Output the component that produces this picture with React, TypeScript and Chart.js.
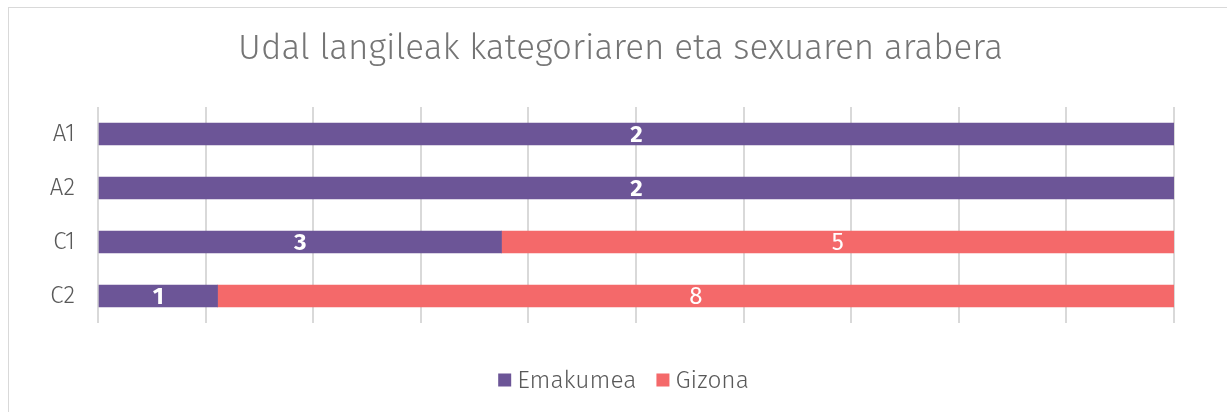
import React, { useEffect, useRef } from "react";
import { Chart, registerables } from "chart.js";

Chart.register(...registerables);

const categories = ["A1", "A2", "C1", "C2"];
const emakumea = [2, 2, 3, 1];
const gizona = [0, 0, 5, 8];
const seriesNames = ["Emakumea", "Gizona"];
const titleText = "Udal langileak kategoriaren eta sexuaren arabera";

const PURPLE = "#6c5597";
const RED = "#f4696a";
const FONT = "'Fira Sans', 'Open Sans', sans-serif";

const totals = categories.map((_, i) => emakumea[i] + gizona[i]);
const pct = (arr: number[]) => arr.map((v, i) => (totals[i] ? (v / totals[i]) * 100 : 0));

const labelPlugin = {
  id: "barLabels",
  afterDatasetsDraw(chart: any) {
    const ctx = chart.ctx;
    const raws = [emakumea, gizona];
    chart.data.datasets.forEach((ds: any, di: number) => {
      const meta = chart.getDatasetMeta(di);
      meta.data.forEach((bar: any, i: number) => {
        const v = raws[di][i];
        if (!v) return;
        const cx = (bar.x + bar.base) / 2;
        ctx.save();
        ctx.fillStyle = "#ffffff";
        ctx.font = `${di === 0 ? "bold " : ""}24px ${FONT}`;
        ctx.textAlign = "center";
        ctx.textBaseline = "middle";
        ctx.fillText(String(v), cx, bar.y + 1);
        ctx.restore();
      });
    });
  },
};

const legendPlugin = {
  id: "customLegend",
  afterDraw(chart: any) {
    const ctx = chart.ctx;
    const font = `300 24.5px ${FONT}`;
    ctx.save();
    ctx.font = font;
    const items = chart.data.datasets.map((ds: any) => ({
      text: ds.label,
      color: ds.backgroundColor,
      w: ctx.measureText(ds.label).width,
    }));
    const box = 13;
    const gap = 6;
    const spacing = 20;
    const total =
      items.reduce((a: number, it: any) => a + box + gap + it.w, 0) + spacing * (items.length - 1);
    let x = chart.width / 2 - total / 2 + 3;
    const cy = chart.chartArea.bottom + 57;
    ctx.textBaseline = "middle";
    ctx.textAlign = "left";
    items.forEach((it: any) => {
      ctx.fillStyle = it.color;
      ctx.fillRect(x, cy - box / 2, box, box);
      x += box + gap;
      ctx.fillStyle = "#595959";
      ctx.fillText(it.text, x, cy + 1);
      x += it.w + spacing;
    });
    ctx.restore();
  },
};

export default function App() {
  const ref = useRef<HTMLCanvasElement>(null);
  useEffect(() => {
    if (!ref.current) return;
    const chart = new Chart(ref.current, {
      type: "bar",
      data: {
        labels: categories,
        datasets: [
          { label: seriesNames[0], data: pct(emakumea), backgroundColor: PURPLE, barThickness: 22 },
          { label: seriesNames[1], data: pct(gizona), backgroundColor: RED, barThickness: 22 },
        ],
      },
      options: {
        indexAxis: "y",
        responsive: false,
        animation: false,
        layout: { padding: { left: 0, right: 0, top: 0, bottom: 93 } },
        scales: {
          x: {
            stacked: true,
            min: 0,
            max: 100,
            ticks: { display: false, stepSize: 10 },
            grid: { color: "#d9d9d9", lineWidth: 2, drawTicks: false },
            border: { display: false },
            afterFit: (s: any) => {
              s.height = 0;
            },
          },
          y: {
            stacked: true,
            ticks: {
              color: "#595959",
              font: { family: FONT, size: 24, weight: "300" as any },
              padding: 23,
            },
            grid: { display: false, drawTicks: false },
            border: { display: false },
            afterFit: (s: any) => {
              s.width = 89;
            },
          },
          yRight: {
            type: "category",
            position: "right",
            labels: categories,
            ticks: { display: false },
            grid: { display: false, drawTicks: false },
            border: { display: false },
            afterFit: (s: any) => {
              s.width = 58;
            },
          },
        },
        plugins: {
          title: {
            display: true,
            text: titleText,
            color: "#757575",
            font: { family: FONT, size: 35, weight: "300" as any },
            padding: { top: 20, bottom: 37 },
          },
          legend: { display: false },
          tooltip: { enabled: false },
        },
      },
      plugins: [labelPlugin, legendPlugin],
    });
    return () => chart.destroy();
  }, []);
  return (
    <div
      style={{
        position: "fixed",
        left: 8,
        top: 7,
        width: 1225,
        height: 410,
        border: "1px solid #d9d9d9",
        boxSizing: "border-box",
        background: "#fff",
      }}
    >
      <canvas ref={ref} width={1223} height={408} style={{ display: "block" }} />
    </div>
  );
}
